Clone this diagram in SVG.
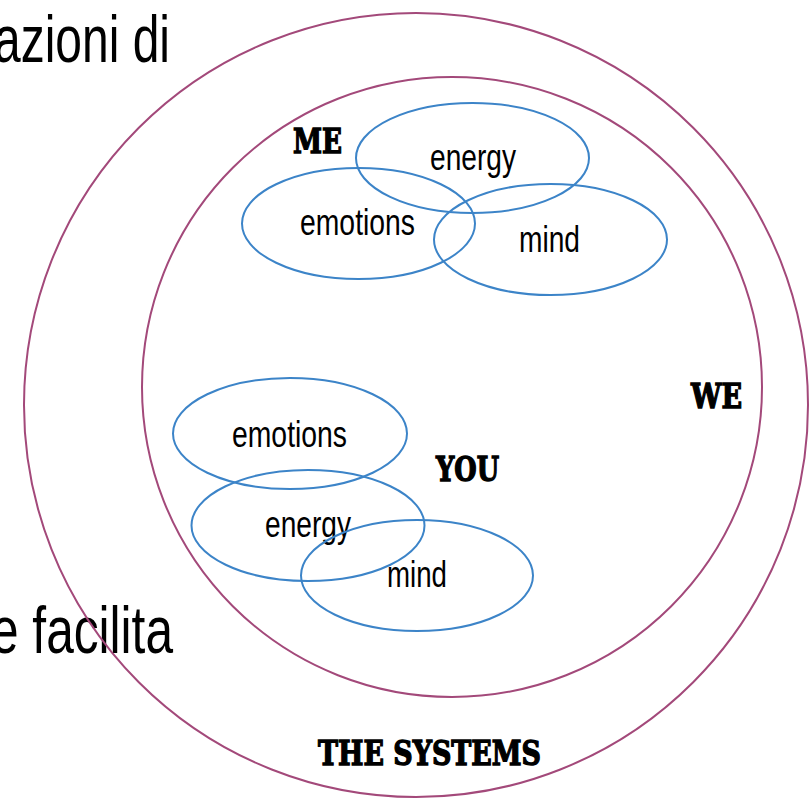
<svg xmlns="http://www.w3.org/2000/svg" width="809" height="801" viewBox="0 0 809 801">
<style>
.bg{font-family:"Liberation Sans",sans-serif;font-size:66px;fill:#000}
.ring{fill:none;stroke:#A3497A;stroke-width:2}
.blob{fill:none;stroke:#3C84C8;stroke-width:2}
.lbl{font-family:"Liberation Sans",sans-serif;font-size:37px;fill:#000}
.head{font-family:"DejaVu Serif",serif;font-weight:900;font-size:33px;fill:#000;stroke:#000;stroke-width:1.4;stroke-linejoin:miter}
</style>
<rect width="809" height="801" fill="#fff"/>
<g id="background-text">
<text class="bg" x="-6" y="62" textLength="176" lengthAdjust="spacingAndGlyphs">azioni di</text>
<text class="bg" x="-9" y="653" textLength="182" lengthAdjust="spacingAndGlyphs">e facilita</text>
</g>
<g id="the-systems">
<circle class="ring" cx="416" cy="405" r="392"/>
<text class="head" x="318" y="765" textLength="223" lengthAdjust="spacingAndGlyphs">THE SYSTEMS</text>
</g>
<g id="we">
<circle class="ring" cx="452" cy="387" r="310"/>
<text class="head" x="691" y="408" textLength="51" lengthAdjust="spacingAndGlyphs">WE</text>
</g>
<g id="me">
<text class="head" x="293" y="153" textLength="49" lengthAdjust="spacingAndGlyphs">ME</text>
<g id="me-energy">
<ellipse class="blob" cx="472.5" cy="158" rx="116.5" ry="55"/>
<text class="lbl" x="430" y="170" textLength="86" lengthAdjust="spacingAndGlyphs">energy</text>
</g>
<g id="me-emotions">
<ellipse class="blob" cx="358.5" cy="223.5" rx="116.5" ry="55.5"/>
<text class="lbl" x="300" y="235" textLength="115" lengthAdjust="spacingAndGlyphs">emotions</text>
</g>
<g id="me-mind">
<ellipse class="blob" cx="550.5" cy="239.5" rx="116.5" ry="55.5"/>
<text class="lbl" x="519" y="252" textLength="61" lengthAdjust="spacingAndGlyphs">mind</text>
</g>
</g>
<g id="you">
<text class="head" x="436" y="481" textLength="63" lengthAdjust="spacingAndGlyphs">YOU</text>
<g id="you-emotions">
<ellipse class="blob" cx="290" cy="433.5" rx="117" ry="55.5"/>
<text class="lbl" x="232" y="447" textLength="115" lengthAdjust="spacingAndGlyphs">emotions</text>
</g>
<g id="you-energy">
<ellipse class="blob" cx="308" cy="525.5" rx="116.5" ry="55.5"/>
<text class="lbl" x="265" y="537" textLength="86" lengthAdjust="spacingAndGlyphs">energy</text>
</g>
<g id="you-mind">
<ellipse class="blob" cx="417" cy="575.5" rx="116" ry="55.5"/>
<text class="lbl" x="387" y="587" textLength="60" lengthAdjust="spacingAndGlyphs">mind</text>
</g>
</g>
</svg>
